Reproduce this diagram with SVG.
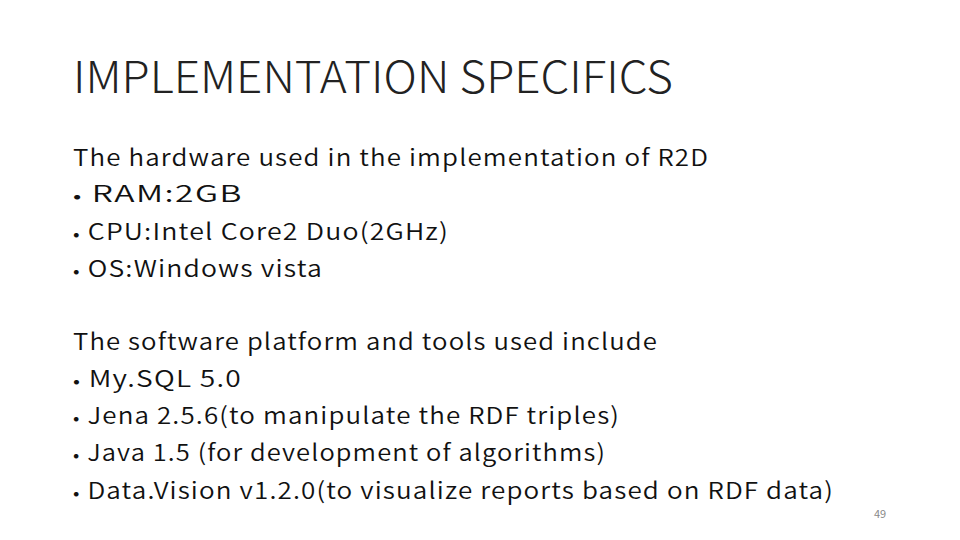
<svg xmlns="http://www.w3.org/2000/svg" width="960" height="540" viewBox="0 0 960 540">
<style>
.t{font-family:"Noto Sans CJK JP","Noto Sans",sans-serif;font-weight:300;font-size:44px;fill:#222}
.b{font-family:"Noto Sans CJK JP","Noto Sans",sans-serif;font-weight:350;font-size:23px;fill:#111;letter-spacing:1px}
.d{font-size:17px}
.p{font-family:"Noto Sans CJK JP","Noto Sans",sans-serif;font-size:11px;fill:#888}
</style>
<rect width="960" height="540" fill="#fff"/>
<g id="title"><text class="t" x="73" y="93" textLength="600" lengthAdjust="spacingAndGlyphs">IMPLEMENTATION SPECIFICS</text></g>
<g id="body">
<text class="b" x="73" y="166" textLength="636" lengthAdjust="spacingAndGlyphs">The hardware used in the implementation of R2D</text>
<text class="b" x="73" y="202" textLength="170" lengthAdjust="spacingAndGlyphs"><tspan class="d">•</tspan> RAM:2GB</text>
<text class="b" x="73" y="240" textLength="376" lengthAdjust="spacingAndGlyphs"><tspan class="d">•</tspan> CPU:Intel Core2 Duo(2GHz)</text>
<text class="b" x="73" y="277" textLength="250" lengthAdjust="spacingAndGlyphs"><tspan class="d">•</tspan> OS:Windows vista</text>
<text class="b" x="73" y="350" textLength="585" lengthAdjust="spacingAndGlyphs">The software platform and tools used include</text>
<text class="b" x="73" y="387" textLength="169" lengthAdjust="spacingAndGlyphs"><tspan class="d">•</tspan> My.SQL 5.0</text>
<text class="b" x="73" y="424" textLength="547" lengthAdjust="spacingAndGlyphs"><tspan class="d">•</tspan> Jena 2.5.6(to manipulate the RDF triples)</text>
<text class="b" x="73" y="461" textLength="533" lengthAdjust="spacingAndGlyphs"><tspan class="d">•</tspan> Java 1.5 (for development of algorithms)</text>
<text class="b" x="73" y="499" textLength="761" lengthAdjust="spacingAndGlyphs"><tspan class="d">•</tspan> Data.Vision v1.2.0(to visualize reports based on RDF data)</text>
</g>
<g id="page"><text class="p" x="874" y="518">49</text></g>
</svg>
